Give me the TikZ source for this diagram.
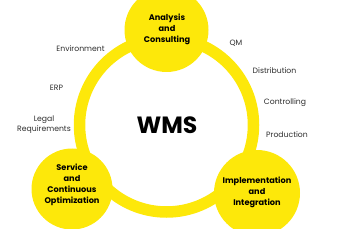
\documentclass[tikz,border=0pt]{standalone}
\usepackage{fontspec}
\setmainfont{Poppins}
\definecolor{wmsyellow}{RGB}{253,232,10}
\definecolor{labelgray}{RGB}{45,45,45}
\begin{document}
\begin{tikzpicture}[x=1pt,y=-1pt,
  phase/.style={circle,fill=wmsyellow,draw=none,inner sep=0pt},
  phasetext/.style={align=center,font=\fontsize{8.2}{11}\selectfont\bfseries,text=black,inner sep=0pt},
  topic/.style={align=center,font=\fontsize{7.7}{10}\selectfont,text=labelgray,inner sep=0pt}]
\useasboundingbox (0,0) rectangle (344,229);
\coordinate (ringc) at (166.5,125);
\draw[wmsyellow,line width=11.5pt] (ringc) circle[radius=87];
\node[phase,minimum size=84pt] (ac) at (166.5,30) {};
\node[phase,minimum size=81pt] (sco) at (72,189) {};
\node[phase,minimum size=86pt] (ii) at (257,193) {};
\node[phasetext] (actext) at (167,29) {Analysis\\and\\Consulting};
\node[phasetext] (scotext) at (72,184.5) {Service\\and\\Continuous\\Optimization};
\node[phasetext] (iitext) at (257,192.5) {Implementation\\and\\Integration};
\node[font=\fontsize{23.5}{23.5}\selectfont\bfseries,inner sep=0pt] (wms) at (167,125) {WMS};
\node[topic] (env) at (80.5,49) {Environment};
\node[topic] (erp) at (56.5,88) {ERP};
\node[topic] (legal) at (44,125) {Legal\\Requirements};
\node[topic] (qm) at (236,43) {QM};
\node[topic] (dist) at (274.5,71) {Distribution};
\node[topic] (ctrl) at (285,103) {Controlling};
\node[topic] (prod) at (287,135) {Production};
\end{tikzpicture}
\end{document}
